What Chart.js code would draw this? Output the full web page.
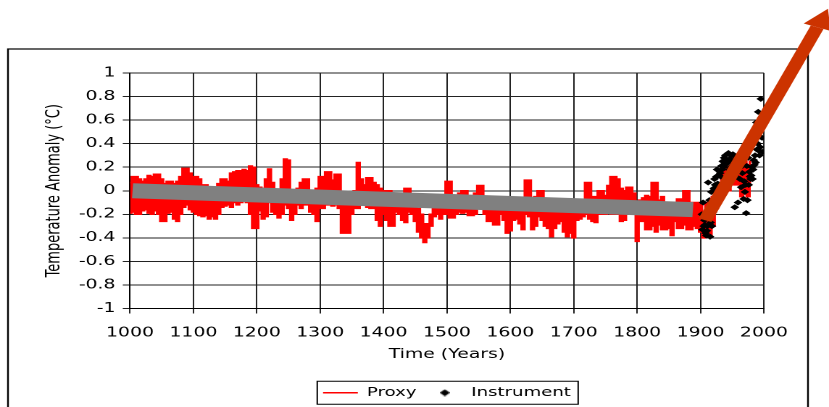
<!DOCTYPE html>
<html lang="en">
<head>
    <meta charset="UTF-8">
    <title>Temperature Anomaly</title>
    <style>
        html, body {
            margin: 0;
            padding: 0;
            background: #ffffff;
            overflow: hidden;
        }
    </style>
    <script src="https://cdn.jsdelivr.net/npm/chart.js"></script>
</head>
<body>
    <!-- the original picture is an Excel chart stretched sideways, so the canvas is drawn narrow and widened by CSS -->
    <canvas id="chart" width="572" height="407" style="width:829px;height:407px"></canvas>

    <script>
        // proxy band, top and bottom of the red trace every 5 years, one pair of arrays per century
        const proxyHigh1000 = [0.07, 0.12, 0.12, 0.1, 0.08, 0.1, 0.13, 0.12, 0.14, 0.14, 0.1, 0.06, 0.08, 0.08, 0.06, 0.08, 0.12, 0.19, 0.19, 0.15];
        const proxyLow1000 = [-0.19, -0.18, -0.2, -0.2, -0.17, -0.16, -0.19, -0.2, -0.17, -0.2, -0.26, -0.26, -0.19, -0.18, -0.24, -0.26, -0.2, -0.14, -0.12, -0.16];
        const proxyHigh1100 = [0.12, 0.12, 0.1, 0.05, 0.05, 0.03, 0.02, 0.0, 0.06, 0.1, 0.1, 0.08, 0.15, 0.16, 0.17, 0.17, 0.18, 0.17, 0.21, 0.2];
        const proxyLow1100 = [-0.18, -0.2, -0.21, -0.22, -0.21, -0.24, -0.22, -0.24, -0.2, -0.14, -0.13, -0.12, -0.14, -0.1, -0.12, -0.1, -0.08, -0.1, -0.2, -0.32];
        const proxyHigh1200 = [0.05, 0.03, 0.02, 0.1, 0.185, 0.07, 0.0, -0.04, 0.1, 0.27, 0.26, 0.0, -0.07, 0.02, 0.07, 0.1, 0.1, -0.02, 0.0, 0.02];
        const proxyLow1200 = [-0.32, -0.17, -0.24, -0.22, -0.1, -0.18, -0.2, -0.23, -0.2, -0.12, -0.15, -0.25, -0.2, -0.12, -0.15, -0.12, -0.12, -0.18, -0.2, -0.26];
        const proxyHigh1300 = [0.12, 0.12, 0.16, 0.16, 0.09, 0.14, 0.14, -0.05, -0.05, -0.08, -0.05, 0.0, 0.24, 0.1, 0.05, 0.11, 0.11, 0.07, 0.05, 0.02];
        const proxyLow1300 = [-0.15, -0.15, -0.12, -0.12, -0.13, -0.12, -0.15, -0.36, -0.36, -0.36, -0.2, -0.15, -0.15, -0.12, -0.12, -0.14, -0.15, -0.15, -0.25, -0.3];
        const proxyHigh1400 = [0.0, 0.0, 0.0, -0.03, -0.05, -0.05, -0.05, 0.02, 0.02, -0.05, -0.1, -0.15, -0.2, -0.28, -0.28, -0.2, -0.12, -0.1, -0.1, -0.1];
        const proxyLow1400 = [-0.2, -0.25, -0.3, -0.3, -0.18, -0.2, -0.25, -0.27, -0.18, -0.2, -0.26, -0.35, -0.4, -0.44, -0.4, -0.3, -0.22, -0.2, -0.24, -0.2];
        const proxyHigh1500 = [0.08, 0.08, -0.05, -0.05, -0.02, 0.0, 0.0, -0.05, -0.05, -0.02, 0.045, 0.045, -0.05, -0.08, -0.08, -0.08, -0.1, -0.1, -0.1, -0.12];
        const proxyLow1500 = [-0.2, -0.23, -0.23, -0.2, -0.18, -0.19, -0.18, -0.21, -0.21, -0.2, -0.15, -0.15, -0.2, -0.26, -0.26, -0.29, -0.29, -0.2, -0.25, -0.36];
        const proxyHigh1600 = [-0.1, -0.1, -0.07, -0.07, -0.08, 0.09, 0.09, -0.08, -0.05, 0.0, 0.0, -0.08, -0.1, -0.12, -0.12, -0.12, -0.15, -0.15, -0.15, -0.15];
        const proxyLow1600 = [-0.34, -0.25, -0.24, -0.28, -0.33, -0.2, -0.22, -0.33, -0.3, -0.22, -0.25, -0.3, -0.32, -0.39, -0.32, -0.28, -0.26, -0.35, -0.39, -0.36];
        const proxyHigh1700 = [-0.12, -0.12, -0.1, -0.1, 0.07, 0.07, -0.05, -0.05, 0.0, 0.0, -0.04, 0.045, 0.12, 0.12, 0.1, 0.02, 0.0, 0.03, 0.03, -0.02];
        const proxyLow1700 = [-0.4, -0.25, -0.24, -0.22, -0.2, -0.24, -0.26, -0.27, -0.2, -0.2, -0.2, -0.17, -0.2, -0.2, -0.2, -0.26, -0.25, -0.2, -0.15, -0.2];
        const proxyHigh1800 = [-0.1, -0.08, -0.06, -0.04, -0.05, 0.07, 0.07, -0.08, -0.05, -0.1, -0.1, -0.1, -0.12, -0.07, -0.07, 0.0, 0.0, -0.1, -0.1, -0.1];
        const proxyLow1800 = [-0.43, -0.26, -0.26, -0.33, -0.33, -0.3, -0.35, -0.29, -0.33, -0.33, -0.32, -0.38, -0.26, -0.32, -0.32, -0.29, -0.33, -0.33, -0.3, -0.32];
        const proxyHigh1900 = [-0.12, -0.2, -0.1, -0.15, -0.05, 0.05, 0.05, 0.15, 0.25, 0.2, 0.3, 0.25, 0.3, 0.2, 0.25, 0.2, 0.25];
        const proxyLow1900 = [-0.35, -0.4, -0.35, -0.38, -0.3, -0.15, -0.1, -0.05, 0.05, 0.0, 0.1, 0.05, 0.05, -0.05, 0.0, -0.05, 0.05];
        const proxyFirstYear = 1000;
        const proxyStep = 5;

        // instrumental record, one value a year from 1902
        const instFirstYear = 1902;
        const instValues = [
            -0.2, -0.33, -0.1, -0.3, -0.25, -0.29, -0.36, -0.38, -0.34, -0.3,
            0.07, -0.22, -0.08, -0.39, -0.27, -0.01, -0.3, -0.12, -0.18, 0.02,
            0.1, 0.05, -0.02, 0.12, 0.18, 0.06, 0.13, 0.02, 0.0, 0.15,
            0.12, 0.21, 0.18, 0.25, 0.2, 0.28, 0.22, 0.3, 0.25, 0.05,
            0.24, 0.24, 0.32, 0.18, 0.27, 0.2, 0.3, 0.16, 0.25, 0.31,
            0.22, 0.3, -0.14, 0.24, 0.12, 0.28, 0.2, -0.1, 0.3, 0.26,
            0.1, 0.2, 0.03, 0.21, 0.15, 0.26, -0.07, 0.08, -0.01, 0.05,
            -0.19, 0.21, -0.08, 0.28, 0.05, 0.16, 0.12, 0.1, 0.13, 0.2,
            0.1, 0.18, 0.26, 0.22, 0.3, 0.24, 0.58, 0.35, 0.4, 0.67,
            0.34, 0.3, 0.37, 0.78, 0.62, 0.45, 0.33
        ];

        // grey straight band over the proxy
        const trendYears = [1004, 1888];
        const trendValues = [0.0, -0.16];

        // the big arrow, start and tip in chart units
        const arrowYears = [1907, 2101];
        const arrowValues = [-0.25, 1.546];

        const xTicks = [1000, 1100, 1200, 1300, 1400, 1500, 1600, 1700, 1800, 1900, 2000];
        const yTicks = [-1, -0.8, -0.6, -0.4, -0.2, 0, 0.2, 0.4, 0.6, 0.8, 1];

        const proxyColor = '#ff0000';
        const trendColor = '#808080';
        const arrowColor = '#cc3300';

        const proxyHigh = [].concat(proxyHigh1000, proxyHigh1100, proxyHigh1200, proxyHigh1300, proxyHigh1400,
            proxyHigh1500, proxyHigh1600, proxyHigh1700, proxyHigh1800, proxyHigh1900);
        const proxyLow = [].concat(proxyLow1000, proxyLow1100, proxyLow1200, proxyLow1300, proxyLow1400,
            proxyLow1500, proxyLow1600, proxyLow1700, proxyLow1800, proxyLow1900);
        const toPoints = values => values.map((v, i) => ({ x: proxyFirstYear + i * proxyStep, y: v }));
        const instPoints = instValues.map((v, i) => ({ x: instFirstYear + i, y: v }));
        const trendPoints = trendYears.map((yr, i) => ({ x: yr, y: trendValues[i] }));

        // small diamond for the legend entry
        const diamond = document.createElement('canvas');
        diamond.width = 7;
        diamond.height = 7;
        const dctx = diamond.getContext('2d');
        dctx.fillStyle = '#000';
        dctx.beginPath();
        dctx.moveTo(3.5, 0);
        dctx.lineTo(7, 3.5);
        dctx.lineTo(3.5, 7);
        dctx.lineTo(0, 3.5);
        dctx.closePath();
        dctx.fill();

        const decorations = {
            id: 'decorations',
            beforeDraw(chart) {
                const ctx = chart.ctx;
                ctx.save();
                ctx.fillStyle = '#ffffff';
                ctx.fillRect(0, 0, chart.width, chart.height);
                ctx.strokeStyle = '#000';
                ctx.lineWidth = 1.2;
                ctx.strokeRect(5.5, 49, 552, 400);
                ctx.restore();
            },
            afterDraw(chart) {
                const ctx = chart.ctx;
                ctx.save();

                // box round the legend
                const boxes = chart.legend.legendHitBoxes;
                if (boxes && boxes.length) {
                    const left = Math.min(...boxes.map(b => b.left));
                    const right = Math.max(...boxes.map(b => b.left + b.width));
                    const cy = boxes[0].top + boxes[0].height / 2;
                    ctx.strokeStyle = '#000';
                    ctx.lineWidth = 1;
                    ctx.strokeRect(left - 4, cy - 11.5, right - left + 9, 23);
                }

                // arrow
                const xs = chart.scales.x;
                const ys = chart.scales.y;
                const x0 = xs.getPixelForValue(arrowYears[0]);
                const y0 = ys.getPixelForValue(arrowValues[0]);
                const x1 = xs.getPixelForValue(arrowYears[1]);
                const y1 = ys.getPixelForValue(arrowValues[1]);
                const len = Math.hypot(x1 - x0, y1 - y0);
                const ux = (x1 - x0) / len;
                const uy = (y1 - y0) / len;
                const headLen = 20;
                const headHalf = 10;
                const bx = x1 - ux * headLen;
                const by = y1 - uy * headLen;

                ctx.strokeStyle = arrowColor;
                ctx.fillStyle = arrowColor;
                ctx.lineWidth = 9.5;
                ctx.lineCap = 'butt';
                ctx.beginPath();
                ctx.moveTo(x0, y0);
                ctx.lineTo(bx, by);
                ctx.stroke();
                ctx.beginPath();
                ctx.moveTo(x1, y1);
                ctx.lineTo(bx - uy * headHalf, by + ux * headHalf);
                ctx.lineTo(bx + uy * headHalf, by - ux * headHalf);
                ctx.closePath();
                ctx.fill();
                ctx.restore();
            }
        };

        Chart.defaults.font.family = "'DejaVu Sans', Verdana, sans-serif";
        Chart.defaults.color = '#111';

        new Chart(document.getElementById('chart'), {
            type: 'line',
            data: {
                datasets: [
                    {
                        label: 'Proxy',
                        data: toPoints(proxyHigh),
                        borderColor: proxyColor,
                        backgroundColor: proxyColor,
                        borderWidth: 1.5,
                        pointRadius: 0,
                        stepped: 'middle',
                        fill: '+1',
                        order: 4
                    },
                    {
                        label: 'Proxy low',
                        data: toPoints(proxyLow),
                        borderColor: proxyColor,
                        backgroundColor: proxyColor,
                        borderWidth: 1.5,
                        pointRadius: 0,
                        stepped: 'middle',
                        fill: false,
                        order: 3
                    },
                    {
                        label: 'Instrument',
                        data: instPoints,
                        showLine: false,
                        pointStyle: 'rectRot',
                        pointRadius: 2.6,
                        pointBorderWidth: 0.6,
                        pointBackgroundColor: '#000',
                        pointBorderColor: '#000',
                        borderColor: '#000',
                        backgroundColor: '#000',
                        order: 1
                    },
                    {
                        label: 'Trend',
                        data: trendPoints,
                        borderColor: trendColor,
                        borderWidth: 15,
                        borderCapStyle: 'butt',
                        pointRadius: 0,
                        order: 2
                    }
                ]
            },
            options: {
                responsive: false,
                devicePixelRatio: 2,
                animation: false,
                layout: {
                    padding: { top: 73, right: 44.9, bottom: -2, left: 0 }
                },
                plugins: {
                    tooltip: { enabled: false },
                    legend: {
                        position: 'bottom',
                        fullSize: false,
                        labels: {
                            usePointStyle: true,
                            pointStyleWidth: 24,
                            boxHeight: 5,
                            padding: 7.5,
                            color: '#000',
                            font: { size: 12.5 },
                            generateLabels(chart) {
                                const items = Chart.defaults.plugins.legend.labels.generateLabels(chart);
                                items.forEach(item => {
                                    if (item.datasetIndex === 0) {
                                        item.pointStyle = 'line';
                                        item.strokeStyle = proxyColor;
                                        item.lineWidth = 1.5;
                                    } else {
                                        item.pointStyle = diamond;
                                    }
                                });
                                return items
                                    .filter(item => item.datasetIndex === 0 || item.datasetIndex === 2)
                                    .sort((a, b) => a.datasetIndex - b.datasetIndex);
                            }
                        }
                    }
                },
                scales: {
                    x: {
                        type: 'linear',
                        min: 1000,
                        max: 2000,
                        afterBuildTicks: scale => {
                            scale.ticks = xTicks.map(v => ({ value: v }));
                        },
                        afterFit: scale => {
                            scale.height = 70.5;
                        },
                        ticks: {
                            color: '#000',
                            font: { size: 13 },
                            padding: 12,
                            maxRotation: 0,
                            callback: v => String(v)
                        },
                        grid: {
                            color: '#222',
                            lineWidth: 1,
                            tickLength: 5
                        },
                        border: { color: '#000', width: 1 },
                        title: {
                            display: true,
                            text: 'Time (Years)',
                            color: '#000',
                            font: { size: 13 },
                            padding: { top: 0, bottom: 16.5 }
                        }
                    },
                    y: {
                        type: 'linear',
                        min: -1,
                        max: 1,
                        afterBuildTicks: scale => {
                            scale.ticks = yTicks.map(v => ({ value: v }));
                        },
                        afterFit: scale => {
                            scale.width = 89.7;
                        },
                        ticks: {
                            color: '#000',
                            font: { size: 13 },
                            padding: 5,
                            callback: v => String(v)
                        },
                        grid: {
                            color: '#222',
                            lineWidth: 1,
                            tickLength: 5
                        },
                        border: { color: '#000', width: 1 },
                        title: {
                            display: true,
                            text: 'Temperature Anomaly (°C)',
                            color: '#000',
                            font: { size: 13 },
                            padding: { top: 30, bottom: 0 }
                        }
                    }
                }
            },
            plugins: [decorations]
        });
    </script>
</body>
</html>
